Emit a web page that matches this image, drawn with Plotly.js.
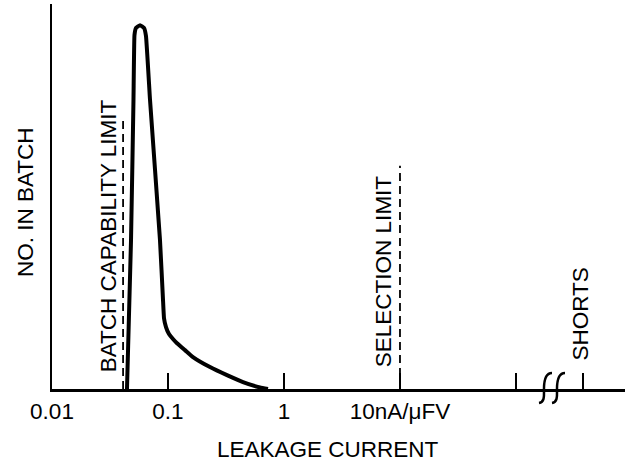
<!DOCTYPE html>
<html>
<head>
<meta charset="utf-8">
<script src="https://cdn.plot.ly/plotly-3.0.1.min.js"></script>
<style>html,body{margin:0;padding:0;background:#fff;}#chart{width:628px;height:464px;}</style>
</head>
<body>
<div id="chart"></div>
<script>
// Leakage current distribution (x: leakage current, log scale; y: number in batch, relative 0-100)
const curveX = [0.0443, 0.0480, 0.0504, 0.0514, 0.0530, 0.0574, 0.0621, 0.0646, 0.0700, 0.0853, 0.0906, 0.0924, 0.0961, 0.1020, 0.1104, 0.1196, 0.1402, 0.1642, 0.2302, 0.3226, 0.4431, 0.6211, 0.728];
const curveY = [0, 38.7, 75.1, 91.9, 93.8, 94.5, 93.8, 91.7, 75.1, 38.7, 23.1, 18.4, 16.1, 14.3, 13.0, 11.9, 10.1, 8.3, 5.7, 3.6, 1.8, 0.4, 0];

const batchLimitX = [0.041, 0.041];
const batchLimitY = [0, 70];
const selectionLimitX = [10, 10];
const selectionLimitY = [0, 58];

const shortsX = 378;
const tickVals = [0.01, 0.1, 1, 10, 100, shortsX];
const tickText = ["0.01", "0.1", "1", "10nA/\u03bcFV", "", ""];

const labelBatch = "BATCH CAPABILITY LIMIT";
const labelSelection = "SELECTION LIMIT";
const labelShorts = "SHORTS";
const xTitle = "LEAKAGE CURRENT";
const yTitle = "NO. IN BATCH";

const FONT = "'Liberation Sans', Arial, Helvetica, sans-serif";
const FS = 22.5;

const traces = [
  {x: curveX, y: curveY, type: 'scatter', mode: 'lines',
   line: {color: '#000', width: 4, shape: 'spline', smoothing: 0.3}, hoverinfo: 'skip'},
  {x: batchLimitX, y: batchLimitY, type: 'scatter', mode: 'lines',
   line: {color: '#000', width: 1.8, dash: '8px,5px'}, hoverinfo: 'skip'},
  {x: selectionLimitX, y: selectionLimitY, type: 'scatter', mode: 'lines',
   line: {color: '#000', width: 1.8, dash: '8px,5px'}, hoverinfo: 'skip'}
];

// axis break marks (paper coordinates)
function px2paperX(p){ return (p - 52) / 573; }
function px2paperY(p){ return (389 - p) / 385; }
function sPath(dx){
  const P = (x, y) => px2paperX(x + dx).toFixed(4) + ',' + px2paperY(y).toFixed(4);
  return 'M' + P(539, 403) + ' C' + P(545, 402) + ' ' + P(544, 395) + ' ' + P(544, 389) +
         ' C' + P(544, 382) + ' ' + P(545, 373) + ' ' + P(552, 373);
}

const layout = {
  width: 628, height: 464,
  margin: {l: 52, r: 3, t: 4, b: 75},
  paper_bgcolor: '#fff', plot_bgcolor: '#fff',
  showlegend: false,
  font: {family: FONT, color: '#000', size: FS},
  xaxis: {
    type: 'log', range: [-2, 2.94],
    showline: true, linewidth: 2.5, linecolor: '#000',
    ticks: 'inside', ticklen: 16, tickwidth: 1.5, tickcolor: '#000',
    tickmode: 'array', tickvals: tickVals, ticktext: tickText,
    tickfont: {size: FS, family: FONT, color: '#000'},
    showgrid: false, zeroline: false, fixedrange: true
  },
  yaxis: {
    range: [0, 100],
    showline: true, linewidth: 2.5, linecolor: '#000',
    ticks: '', showticklabels: false,
    showgrid: false, zeroline: false, fixedrange: true
  },
  shapes: [
    {type: 'path', xref: 'paper', yref: 'paper', path: sPath(0), line: {color: '#000', width: 2.5}},
    {type: 'path', xref: 'paper', yref: 'paper', path: sPath(13), line: {color: '#000', width: 2.5}}
  ],
  annotations: [
    {text: labelBatch, xref: 'x', yref: 'y', x: Math.log10(batchLimitX[0]), y: 39.7, xshift: -15,
     xanchor: 'center', yanchor: 'middle', textangle: -90, showarrow: false, font: {size: FS}},
    {text: labelSelection, xref: 'x', yref: 'y', x: Math.log10(selectionLimitX[0]), y: 30.6, xshift: -17,
     xanchor: 'center', yanchor: 'middle', textangle: -90, showarrow: false, font: {size: FS}},
    {text: labelShorts, xref: 'x', yref: 'y', x: Math.log10(shortsX), y: 19.6, xshift: -2,
     xanchor: 'center', yanchor: 'middle', textangle: -90, showarrow: false, font: {size: FS}},
    {text: xTitle, xref: 'paper', yref: 'paper', x: px2paperX(327.5), y: px2paperY(449),
     xanchor: 'center', yanchor: 'middle', showarrow: false, font: {size: FS}},
    {text: yTitle, xref: 'paper', yref: 'paper', x: px2paperX(26), y: px2paperY(202),
     xanchor: 'center', yanchor: 'middle', textangle: -90, showarrow: false, font: {size: FS}}
  ]
};

Plotly.newPlot('chart', traces, layout, {displayModeBar: false, staticPlot: true});
</script>
</body>
</html>
